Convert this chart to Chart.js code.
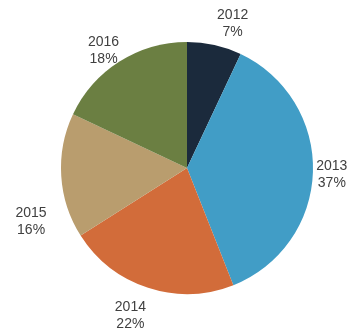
<!DOCTYPE html>
<html>
<head>
<meta charset="utf-8">
<script src="https://cdn.jsdelivr.net/npm/chart.js@4"></script>
<style>
  html, body { margin: 0; padding: 0; background: #fff; }
  #wrap { width: 347px; height: 332px; }
</style>
</head>
<body>
<div id="wrap"><canvas id="pie"></canvas></div>
<script>
const years = ["2012", "2013", "2014", "2015", "2016"];
const shares = [7, 37, 22, 16, 18];
const colors = ["#1b2a3c", "#419dc6", "#d26c3a", "#b99d6e", "#6b7f42"];

// small nudges so labels sit roughly where the original put them
// [angle shift in degrees, distance beyond the rim in px]
const labelNudge = [[5, 25], [1, 19], [3, 32], [-15.5, 39], [-3, 18]];

const outsideLabels = {
  id: "outsideLabels",
  afterDatasetsDraw(chart) {
    const ctx = chart.ctx;
    const meta = chart.getDatasetMeta(0);
    ctx.save();
    ctx.font = "14px 'Liberation Sans', Arial, sans-serif";
    ctx.fillStyle = "#404040";
    ctx.textAlign = "center";
    ctx.textBaseline = "middle";
    meta.data.forEach((arc, i) => {
      const mid = (arc.startAngle + arc.endAngle) / 2 + labelNudge[i][0] * Math.PI / 180;
      const dist = arc.outerRadius + labelNudge[i][1];
      const x = arc.x + Math.cos(mid) * dist;
      const y = arc.y + Math.sin(mid) * dist;
      ctx.fillText(years[i], x, y - 8.5);
      ctx.fillText(shares[i] + "%", x, y + 8.5);
    });
    ctx.restore();
  }
};

new Chart(document.getElementById("pie"), {
  type: "pie",
  data: {
    labels: years,
    datasets: [{
      data: shares,
      backgroundColor: colors,
      borderWidth: 0
    }]
  },
  options: {
    responsive: true,
    maintainAspectRatio: false,
    animation: false,
    layout: { padding: { left: 61, right: 34, top: 42, bottom: 38 } },
    plugins: {
      legend: { display: false },
      tooltip: { enabled: false }
    }
  },
  plugins: [outsideLabels]
});
</script>
</body>
</html>
